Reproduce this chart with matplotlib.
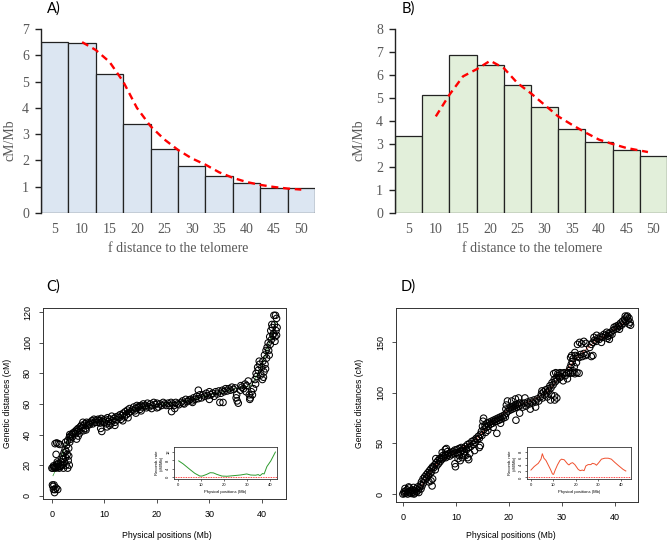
import numpy as np
import matplotlib
matplotlib.use("Agg")
import matplotlib.pyplot as plt

# ---- data: recombination rate by distance to the telomere (panels A, B)
dist = [5, 10, 15, 20, 25, 30, 35, 40, 45, 50]
rate_a = [6.5, 6.45, 5.3, 3.4, 2.42, 1.8, 1.4, 1.13, 0.95, 0.95]
rate_b = [3.35, 5.15, 6.85, 6.45, 5.55, 4.62, 3.65, 3.1, 2.75, 2.5]

fit_a_x = [10, 12.5, 15, 17.5, 20, 22.5, 25, 27.5, 30, 32.5, 35, 37.5, 40, 42.5, 45, 47.5, 50]
fit_a_y = [6.5, 6.2, 5.75, 5.0, 4.0, 3.3, 2.8, 2.4, 2.08, 1.84, 1.55, 1.34, 1.18, 1.07, 0.99, 0.93, 0.89]
fit_b_x = [10, 12.5, 15, 17.5, 20, 22.5, 25, 27.5, 30, 32.5, 35, 37.5, 40, 42.5, 45, 49]
fit_b_y = [4.2, 5.14, 5.94, 6.25, 6.62, 6.3, 5.65, 5.2, 4.7, 4.2, 3.84, 3.5, 3.19, 3.0, 2.83, 2.65]

# ---- marey maps (panels C, D): (physical Mb, genetic cM)
pts_c = [
    (0.1, 7), (0.2, 6), (0.4, 7), (0.3, 4), (0.6, 4), (0.5, 2), (1.1, 4), (0.8, 5),
    (0.0, 18), (0.2, 18), (0.4, 18.5), (0.5, 19), (0.7, 18), (0.8, 19), (1.0, 18.5), (1.1, 20),
    (1.3, 19), (1.4, 18), (0.3, 19.5), (0.9, 20.5),
    (0.6, 34), (0.9, 34.5), (1.2, 34), (1.5, 33.5), (0.8, 27), (1.0, 22), (1.2, 21),
    (1.6, 19), (1.7, 22), (1.9, 24), (2.0, 20), (2.1, 26), (2.2, 18), (2.3, 28), (2.4, 22),
    (2.5, 30), (2.6, 25), (2.7, 20), (2.8, 33), (2.9, 27), (3.0, 18), (3.1, 23), (3.2, 31),
    (3.3, 20), (3.4, 35), (2.6, 35), (3.0, 36), (2.2, 24), (1.8, 20), (2.7, 29), (3.2, 26),
    (3.3, 38), (3.5, 39), (3.6, 37), (3.8, 40), (3.9, 38.5), (4.0, 41), (3.4, 40),
    (4.2, 41), (4.4, 42), (4.5, 40.5), (4.7, 43), (4.9, 42), (5.0, 44), (5.2, 43), (5.4, 45),
    (4.7, 37), (5.0, 39), (5.3, 41),
    (5.6, 46), (5.8, 44.5), (5.9, 48), (6.1, 46), (6.3, 47), (6.4, 44), (6.6, 48), (6.8, 46),
    (7.0, 47.5), (7.2, 46.5), (7.4, 48), (6.0, 42.5), (6.5, 43),
    (7.6, 49), (7.8, 47), (8.0, 50), (8.2, 48), (8.4, 49.5), (8.6, 48), (8.8, 50), (9.0, 49),
    (9.2, 47.5), (9.4, 50.5), (9.6, 48.5), (9.8, 49.5), (10.0, 48), (9.5, 42), (9.3, 44),
    (10.2, 50), (10.4, 47), (10.6, 51), (10.8, 48.5), (11.0, 50), (11.2, 47), (11.4, 52),
    (11.6, 49), (11.8, 50.5), (12.0, 48), (12.2, 51.5), (12.4, 49.5), (12.6, 52), (11.0, 46),
    (12.0, 46), (10.5, 45),
    (12.8, 51), (13.0, 53), (13.2, 50), (13.4, 52.5), (13.6, 54), (13.8, 51.5), (14.0, 55),
    (14.2, 53), (14.4, 56), (14.6, 54), (14.8, 57), (15.0, 55), (13.5, 49), (14.5, 51),
    (15.4, 56), (15.6, 58), (15.8, 55.5), (16.0, 57), (16.2, 59), (16.4, 57.5), (16.6, 58.5),
    (16.8, 56.5), (17.0, 59), (17.2, 58), (17.4, 60), (17.6, 58.5), (16.0, 54), (17.0, 55.5),
    (17.9, 59), (18.2, 60.5), (18.5, 58), (18.8, 60), (19.1, 59), (19.4, 61), (19.7, 59.5),
    (20.0, 60.5), (20.3, 58), (20.6, 60), (20.9, 59), (21.2, 61), (21.5, 60), (21.8, 59),
    (22.1, 60.5), (19.0, 57), (20.0, 57.5), (18.0, 57.5),
    (22.4, 59), (22.7, 61), (23.0, 60), (23.3, 59), (23.6, 61), (23.9, 60), (24.2, 59.5),
    (22.8, 55), (23.4, 57),
    (24.6, 61), (24.9, 62), (25.2, 60), (25.5, 63), (25.8, 61.5), (26.1, 62.5), (25.0, 60.5),
    (26.4, 63), (26.7, 62), (27.0, 64), (27.3, 63), (27.6, 65), (27.9, 63.5), (28.2, 66),
    (27.9, 69), (26.8, 61),
    (28.5, 64), (28.8, 66), (29.1, 65), (29.4, 67), (29.7, 65.5), (30.0, 68), (30.3, 66),
    (30.6, 67), (30.9, 65), (31.2, 68), (31.5, 66.5), (31.8, 68.5), (32.0, 61), (32.6, 61),
    (30.0, 63),
    (32.2, 67), (32.5, 69), (32.8, 68), (33.1, 70), (33.4, 68.5), (33.7, 70), (34.0, 69),
    (34.3, 71), (34.6, 69.5), (34.9, 70.5),
    (35.1, 64), (35.3, 62), (35.5, 60.5), (35.2, 66),
    (35.9, 69), (36.2, 71), (36.5, 70), (36.8, 73), (37.1, 72), (37.4, 75), (36.0, 72), (37.0, 68),
    (37.6, 66), (37.8, 64), (38.0, 68), (38.2, 66), (38.4, 70), (37.7, 63),
    (38.7, 76), (38.9, 80), (39.0, 78), (39.2, 84), (39.3, 82), (39.5, 88), (39.6, 86), (38.8, 73),
    (39.8, 79), (40.0, 84), (40.1, 76), (40.2, 88), (40.4, 81), (40.5, 92), (40.6, 86),
    (40.8, 95), (40.9, 90), (40.3, 77.5), (40.7, 83),
    (41.0, 97), (41.2, 100), (41.3, 95), (41.5, 104), (41.6, 99), (41.7, 108), (41.8, 102),
    (42.0, 110), (42.1, 105), (41.4, 92), (41.9, 112),
    (42.2, 106), (42.3, 118), (42.4, 112), (42.5, 104), (42.6, 118), (42.7, 108), (42.8, 116),
    (42.9, 110), (42.5, 101), (42.8, 105),
]
pts_d = [
    (0.0, 0), (0.2, 2), (0.3, 0.5), (0.5, 3), (0.6, 1), (0.8, 4), (0.9, 0), (1.0, 2), (1.2, 6),
    (1.3, 1), (1.5, 3), (1.6, 0.5), (1.8, 4), (1.9, 2), (2.0, 6.5), (2.2, 1), (2.3, 3), (2.5, 5),
    (2.6, 2), (2.8, 7), (2.9, 4), (3.0, 1.5), (3.1, 6), (0.4, 5.5), (1.1, 7), (2.1, 0),
    (3.3, 9), (3.5, 12), (3.6, 8), (3.8, 15), (3.9, 11), (4.1, 17), (4.2, 14), (4.4, 19),
    (4.5, 16), (4.7, 21), (4.8, 18), (5.0, 23), (5.1, 20), (5.3, 25), (5.4, 22), (5.6, 27),
    (5.5, 8), (5.3, 13), (4.9, 12), (5.6, 15), (3.4, 5),
    (5.8, 26), (6.0, 29), (6.1, 24), (6.3, 31), (6.4, 28), (6.6, 33), (6.7, 30), (6.9, 35),
    (7.0, 32), (7.2, 36), (7.3, 34), (7.5, 38), (7.6, 35.5), (7.8, 37), (8.0, 39), (8.1, 36),
    (6.2, 35), (7.4, 41), (8.0, 44), (8.2, 45), (8.4, 42),
    (8.4, 38), (8.6, 40), (8.8, 37.5), (9.0, 41), (9.2, 39), (9.4, 42), (9.6, 40), (9.8, 43.5),
    (10.0, 41), (10.2, 44), (10.4, 40), (10.6, 45), (10.8, 42), (11.0, 46), (11.2, 43),
    (9.8, 30), (9.9, 27), (10.4, 35), (10.8, 33), (11.2, 36), (10.6, 38),
    (11.4, 45), (11.6, 42), (11.8, 47), (12.0, 44), (12.2, 49), (12.4, 46), (12.6, 50),
    (12.8, 47), (13.0, 52), (13.2, 49), (13.4, 53), (13.6, 51), (13.8, 55), (11.8, 38),
    (12.2, 36), (12.6, 40), (12.4, 34), (13.5, 43), (11.5, 40),
    (14.0, 54), (14.2, 57), (14.4, 55), (14.6, 59), (14.8, 62), (14.9, 58), (15.0, 67),
    (15.1, 72), (15.2, 75), (15.3, 64), (15.5, 68), (15.7, 66), (15.9, 70), (16.1, 67),
    (16.3, 71), (14.4, 46), (14.6, 48), (15.6, 61), (16.0, 63),
    (16.5, 69), (16.7, 72), (16.9, 70), (17.1, 73), (17.3, 71.5), (17.5, 74), (17.7, 72),
    (17.9, 75), (18.1, 73), (18.3, 76), (18.5, 74), (18.7, 77), (18.9, 75), (19.1, 78),
    (19.3, 76), (19.5, 80), (17.7, 60), (17.0, 66), (18.4, 70), (19.5, 88), (19.7, 92), (19.4, 84),
    (19.8, 82), (20.0, 85), (20.2, 83), (20.4, 86), (20.6, 84), (20.8, 87), (21.0, 85),
    (21.2, 88), (21.4, 86), (21.6, 89), (21.8, 87), (22.0, 90), (20.5, 92), (21.2, 94),
    (21.8, 95), (21.3, 73), (22.0, 80),
    (22.3, 88), (22.6, 86), (22.9, 90), (23.2, 87), (23.5, 91), (23.8, 89), (24.1, 92),
    (24.4, 90), (24.7, 93), (25.0, 91), (25.3, 94), (25.6, 92), (23.0, 95), (24.0, 84), (25.0, 86),
    (25.9, 96), (26.1, 99), (26.3, 95), (26.5, 101), (26.7, 98), (26.9, 103), (26.2, 102),
    (27.1, 100), (27.3, 104), (27.5, 102), (27.7, 107), (27.9, 105), (28.1, 110), (28.3, 108),
    (28.5, 113), (28.7, 111), (28.9, 115), (29.1, 113), (29.3, 117), (29.5, 115), (27.2, 96),
    (28.0, 98), (28.6, 97), (27.8, 93), (28.6, 93), (29.0, 95),
    (28.4, 119), (28.8, 120), (29.2, 119), (29.6, 120), (30.0, 119.5), (30.4, 120), (30.8, 119),
    (31.2, 120), (31.6, 119.5), (32.0, 120), (32.4, 119), (32.8, 120), (33.2, 119.5),
    (29.8, 116), (30.6, 117), (31.0, 114), (30.2, 112),
    (31.3, 122), (31.5, 125), (31.7, 128), (31.9, 131), (32.1, 134), (32.3, 126), (32.5, 137),
    (32.7, 130), (31.6, 135), (32.0, 122), (32.4, 140), (31.8, 137),
    (32.9, 136), (33.2, 135), (33.5, 138), (33.8, 136), (34.1, 139), (34.4, 137), (34.7, 138),
    (32.9, 148), (33.3, 150), (33.7, 148.5), (34.1, 151), (34.5, 149), (35.5, 136), (35.8, 137),
    (35.2, 145), (35.5, 148), (35.8, 150), (36.1, 152), (36.4, 151), (36.7, 154), (37.0, 153),
    (37.3, 156), (37.6, 155), (37.9, 158), (38.2, 157), (36.0, 155), (37.4, 150), (38.4, 160),
    (36.5, 157),
    (38.6, 156), (38.8, 159), (39.0, 157), (39.2, 160), (39.4, 158), (38.5, 154), (38.9, 153),
    (39.6, 162), (39.8, 165), (40.0, 163), (40.2, 166), (40.4, 164), (40.6, 167), (40.8, 166),
    (41.0, 169), (41.2, 167), (41.4, 171), (41.6, 169), (41.8, 173), (42.0, 171), (42.2, 175),
    (42.4, 172), (42.6, 174), (42.8, 170), (42.9, 167), (42.3, 176), (41.9, 176), (40.8, 163),
    (42.6, 168),
]
trend_c_x = [0.2, 1, 3, 5, 8, 12, 16, 20, 25, 30, 34, 36, 38, 40, 42.7]
trend_c_y = [13, 19, 36, 43, 48, 50, 57, 59.5, 61.5, 66, 69, 71, 72, 85, 114]
trend_d_x = [0, 3, 6, 10, 14, 17, 20, 24, 27, 30, 33, 36, 39, 42.7]
trend_d_y = [0, 4, 28, 42, 55, 72, 84, 92, 100, 118, 136, 150, 160, 173]

# inset recombination rate curves
rr_c_x = [0.3, 2.2, 5.1, 7.3, 9.5, 10.5, 12.5, 14, 15.4, 16.9, 19.1, 21.3, 24.3, 27.2, 29.9,
          31.6, 33.8, 34.9, 35.7, 36.8, 37.5, 38.7, 40.4, 42.4]
rr_c_y = [7.8, 6.4, 3.8, 1.9, 0.6, 0.6, 1.4, 2.2, 2.1, 1.4, 0.6, 0.5, 0.8, 1.1, 1.6,
          1.1, 1.0, 1.3, 0.8, 1.8, 1.6, 5.1, 7.8, 12]
rr_d_x = [0.15, 1.6, 3.4, 4.6, 5.2, 5.9, 6.8, 7.8, 8.8, 9.7, 10.2, 10.9, 11.9, 13, 13.7, 14.9,
          15.6, 16.4, 17, 17.8, 18.6, 19.6, 20.4, 21.1, 22, 22.9, 23.7, 24.5, 25.5, 26.7, 27.4,
          28.5, 29.2, 30.2, 31.4, 32.9, 34.4, 35.8, 37.3, 39.1, 41, 42.2]
rr_d_y = [2.3, 3.4, 4.4, 5.7, 7.4, 6.0, 5.3, 3.9, 2.5, 1.05, 0.95, 2.3, 3.9, 5.3, 5.7, 5.5,
          4.9, 4.2, 3.9, 4.4, 4.6, 4.0, 3.2, 2.5, 2.1, 2.3, 2.1, 3.6, 4.0, 4.0, 4.4,
          4.2, 3.8, 4.6, 5.7, 6.0, 6.0, 5.7, 4.7, 3.6, 2.5, 2.0]

W, H = 668, 542
fig = plt.figure(figsize=(W / 100, H / 100), dpi=100)


def box(x0, y0, x1, y1):
    # pixel box (top-left origin) -> figure fraction rect
    return [x0 / W, 1 - y1 / H, (x1 - x0) / W, (y1 - y0) / H]


grey = "#595959"
serif = "Liberation Serif"


def bar_panel(rect, vals, fx, fy, color, ymax):
    ax = fig.add_axes(rect)
    ax.bar(dist, vals, width=5, color=color, edgecolor="#222222", linewidth=0.9)
    ax.plot(fx, fy, color="red", lw=1.7, linestyle=(0, (3, 2)))
    ax.set_xlim(2.5, 52.5)
    ax.set_ylim(0, ymax)
    for s in ["top", "right", "bottom"]:
        ax.spines[s].set_visible(False)
    ax.spines["left"].set_color("#222222")
    ax.spines["left"].set_linewidth(1.0)
    ax.set_xticks(dist)
    ax.set_xticklabels([str(d) for d in dist], fontfamily=serif, fontsize=10, color=grey)
    ax.tick_params(axis="x", length=0, pad=7)
    ax.set_yticks(range(ymax + 1))
    ax.set_yticklabels([str(v) for v in range(ymax + 1)], fontfamily=serif, fontsize=10, color=grey)
    ax.tick_params(axis="y", length=4.5, width=1.0, color="#222222", pad=4)
    return ax


bar_panel(box(41, 29, 315, 213), rate_a, fit_a_x, fit_a_y, "#dce6f2", 7)
bar_panel(box(395, 29, 667, 213), rate_b, fit_b_x, fit_b_y, "#e2efda", 8)

for cx in [178, 532]:
    fig.text(cx / W, 1 - 248 / H, "f distance to the telomere", ha="center", va="center",
             fontfamily=serif, fontsize=10, color=grey)
for lx in [10, 359]:
    fig.text(lx / W, 1 - 140 / H, "cM/Mb", ha="center", va="center", rotation=90,
             fontfamily=serif, fontsize=10, color=grey)

# panel letters
for t, x, y in [("A)", 47, 9), ("B)", 402, 9), ("C)", 46, 287), ("D)", 401, 287)]:
    fig.text(x / W, 1 - y / H, t, ha="left", va="center", fontfamily="Lato", fontsize=10.5)

sans = "Liberation Sans"


def marey(rect, pts, tx, ty, tcol, xlim, ylim, yticks):
    ax = fig.add_axes(rect)
    p = np.array(pts)
    ax.plot(tx, ty, color=tcol, lw=0.5, zorder=1)
    ax.scatter(p[:, 0], p[:, 1], s=22, facecolors="none", edgecolors="black",
               linewidths=0.75, zorder=2)
    ax.set_xlim(*xlim)
    ax.set_ylim(*ylim)
    ax.set_xticks([0, 10, 20, 30, 40])
    ax.set_yticks(yticks)
    ax.set_yticklabels([str(v) for v in yticks], rotation=90, va="center")
    for lab in ax.get_xticklabels() + ax.get_yticklabels():
        lab.set_fontfamily(sans)
        lab.set_fontsize(6.5)
    ax.tick_params(length=3, width=0.6, color="#333333", pad=5)
    for s in ax.spines.values():
        s.set_linewidth(0.7)
        s.set_color("#333333")
    return ax


def inset(rect, x, y, col, xlim, ylim, yticks):
    ax = fig.add_axes(rect)
    ax.plot(x, y, color=col, lw=0.7)
    ax.axhline(0, color="red", lw=0.6, linestyle=(0, (1, 1)))
    ax.set_xlim(*xlim)
    ax.set_ylim(*ylim)
    ax.set_xticks([0, 10, 20, 30, 40])
    ax.set_yticks(yticks)
    ax.set_yticklabels([str(v) for v in yticks], rotation=90, va="center")
    for lab in ax.get_xticklabels() + ax.get_yticklabels():
        lab.set_fontfamily(sans)
        lab.set_fontsize(3)
    ax.tick_params(length=1.2, width=0.4, pad=1.5)
    for s in ax.spines.values():
        s.set_linewidth(0.6)
        s.set_color("#333333")
    ax.set_xlabel("Physical positions (Mb)", fontfamily=sans, fontsize=3, labelpad=2)
    ax.set_ylabel("Recomb. rate\n(cM/Mb)", fontfamily=sans, fontsize=3, labelpad=2,
                  linespacing=1.0)
    return ax


marey(box(43, 308, 286, 499), pts_c, trend_c_x, trend_c_y, "#2e9b2e",
      (-1.7, 44.6), (-2.2, 122.8), [0, 20, 40, 60, 80, 100, 120])
marey(box(396, 308, 638, 502), pts_d, trend_d_x, trend_d_y, "#e8452c",
      (-1.3, 44.3), (-7.9, 184), [0, 50, 100, 150])

inset(box(174, 447, 277, 479), rr_c_x, rr_c_y, "#2e9b2e", (-1.76, 43.1), (-0.8, 14.4), [0, 4, 8, 12])
inset(box(527, 447, 631, 479), rr_d_x, rr_d_y, "#f0502e", (-1.6, 44.5), (-0.5, 9.5), [0, 2, 4, 6, 8])

for cx in [167, 511]:
    fig.text(cx / W, 1 - 535 / H, "Physical positions (Mb)", ha="center", va="center",
             fontfamily=sans, fontsize=6.2)
for lx in [8, 359]:
    fig.text(lx / W, 1 - 403 / H, "Genetic distances (cM)", ha="center", va="center",
             rotation=90, fontfamily=sans, fontsize=6.2)

fig.savefig("out.png", dpi=100)
